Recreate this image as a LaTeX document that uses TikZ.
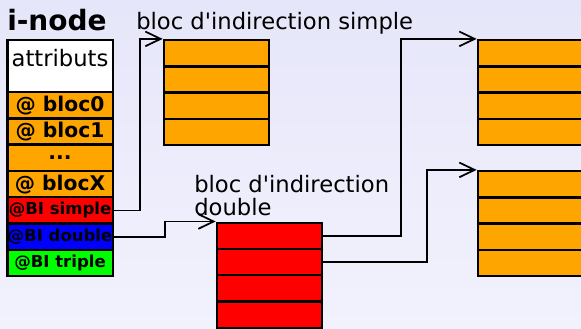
\documentclass[tikz,border=0pt]{standalone}
\usepackage{fontspec}
\setmainfont{DejaVu Sans}[Ligatures=TeXOff]
\usetikzlibrary{positioning, arrows.meta}
\definecolor{ink}{HTML}{000000}
\definecolor{blkfill}{HTML}{FFA500}
\definecolor{bisimp}{HTML}{FF0000}
\definecolor{bidbl}{HTML}{0000FF}
\definecolor{bitrp}{HTML}{00FF00}
\definecolor{bgtop}{HTML}{E6E6FA}
\definecolor{bgbot}{HTML}{F2F2FD}
\tikzset{
  every node/.style = {text=ink},
  incell/.style  = {draw=ink, line width=1.75pt, inner sep=0pt, minimum width=79pt,
                    minimum height=19.7pt, font=\fontsize{15.2}{16}\selectfont\bfseries},
  inattr/.style  = {incell, fill=white, minimum height=39pt,
                    font=\fontsize{17}{20}\selectfont, text height=1ex, text depth=1ex},
  inaddr/.style  = {incell, fill=blkfill},
  inbi/.style    = {incell, font=\fontsize{12.4}{14}\selectfont\bfseries},
  inblk/.style   = {incell, fill=blkfill},
  inind/.style   = {incell, fill=bisimp},
  inptr/.style   = {-{Straight Barb[length=11.5pt,width=11pt]}, draw=ink, line width=1.3pt},
  inhead/.style  = {font=\fontsize{17}{17.3}\selectfont, inner sep=0pt, align=left},
  intitle/.style = {font=\fontsize{21}{22}\selectfont\bfseries, inner sep=0pt, anchor=base west},
}

\begin{document}
\begin{tikzpicture}[x=0.75pt, y=-0.75pt]

\useasboundingbox (0,0) rectangle (581,328);
\fill[top color=bgtop, bottom color=bgbot] (0,0) rectangle (581,328);

% the i-node itself
\node[intitle] (ititle) at (7,30.7) {i-node};
\node[inattr] (iattr) at (60,66) {attributs};
\node[inaddr] (ib0)   at (60,105.2) {@ bloc0};
\node[inaddr] (ib1)   at (60,131.5) {@ bloc1};
\node[inaddr] (idots) at (60,157.8) {...};
\node[inaddr] (ibx)   at (60,184.1) {@ blocX};
\node[inbi, fill=bisimp] (isimp) at (60,210.4) {@BI simple};
\node[inbi, fill=bidbl]  (idbl)  at (60,236.7) {@BI double};
\node[inbi, fill=bitrp]  (itrp)  at (60,263.0) {@BI triple};

% simple indirection block
\node[inhead, anchor=base west] (lsimp) at (136,30) {bloc d'indirection simple};
\node[inblk] (s1) at (216.5,53.2) {};
\node[inblk] (s2) at (216.5,79.5) {};
\node[inblk] (s3) at (216.5,105.8) {};
\node[inblk] (s4) at (216.5,132.1) {};

% double indirection block
\node[inhead, anchor=north west] (ldbl) at (194,174.8) {bloc d'indirection\\double};
\node[inind] (d1) at (269.5,235.8) {};
\node[inind] (d2) at (269.5,262.1) {};
\node[inind] (d3) at (269.5,288.4) {};
\node[inind] (d4) at (269.5,314.7) {};

% data blocks reached through the double block
\node[inblk] (t1) at (530.5,53.2) {};
\node[inblk] (t2) at (530.5,79.5) {};
\node[inblk] (t3) at (530.5,105.8) {};
\node[inblk] (t4) at (530.5,132.1) {};

\node[inblk] (u1) at (530.5,184.2) {};
\node[inblk] (u2) at (530.5,210.5) {};
\node[inblk] (u3) at (530.5,236.8) {};
\node[inblk] (u4) at (530.5,263.1) {};

\draw[inptr] (isimp.east) -- ++(26,0) |- (s1.north west);
\draw[inptr] (idbl.east)  -- ++(51,0) |- (d1.north west);
\draw[inptr] (d1.east)    -- ++(78,0) |- (t1.north west);
\draw[inptr] (d2.east)    -- ++(104,0) |- (u1.north west);
\end{tikzpicture}
\end{document}
